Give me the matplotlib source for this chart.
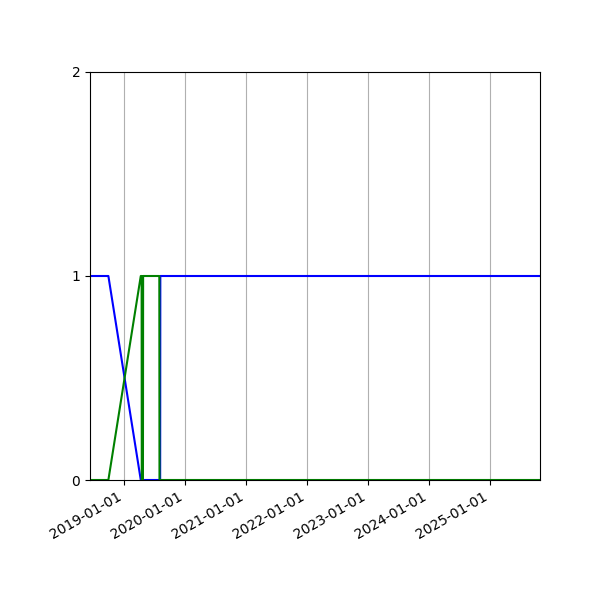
import matplotlib
matplotlib.use("Agg")
import matplotlib.pyplot as plt
import matplotlib.dates as mdates
import numpy as np

blue_dates = ["2018-06-12", "2018-09-30", "2019-04-12", "2019-08-06", "2019-08-07", "2025-10-27"]
blue_vals = [1, 1, 0, 0, 1, 1]

green_dates = ["2018-06-12", "2018-09-30", "2019-04-12", "2019-04-17", "2019-04-18",
               "2019-04-25", "2019-04-26", "2019-08-01", "2019-08-02", "2025-10-27"]
green_vals = [0, 0, 1, 1, 0, 0, 1, 1, 0, 0]

y_ticks = [0, 1, 2]

bd = np.array(blue_dates, dtype="datetime64[D]")
gd = np.array(green_dates, dtype="datetime64[D]")

fig = plt.figure(figsize=(6, 6), dpi=100)
ax = fig.add_axes([0.15, 0.2, 0.75, 0.68])
ax.plot(bd, blue_vals, color="blue", linewidth=1.5)
ax.plot(gd, green_vals, color="green", linewidth=1.5)

ax.set_xlim(bd[0], bd[-1])
ax.set_ylim(0, 2)
ax.set_yticks(y_ticks)
ax.xaxis.set_major_locator(mdates.YearLocator())
ax.xaxis.set_major_formatter(mdates.DateFormatter("%Y-%m-%d"))
ax.grid(True, axis="x", color="#b0b0b0", linewidth=0.8)
for lbl in ax.get_xticklabels():
    lbl.set_rotation(30)
    lbl.set_ha("right")

fig.savefig("out.png", dpi=100)
